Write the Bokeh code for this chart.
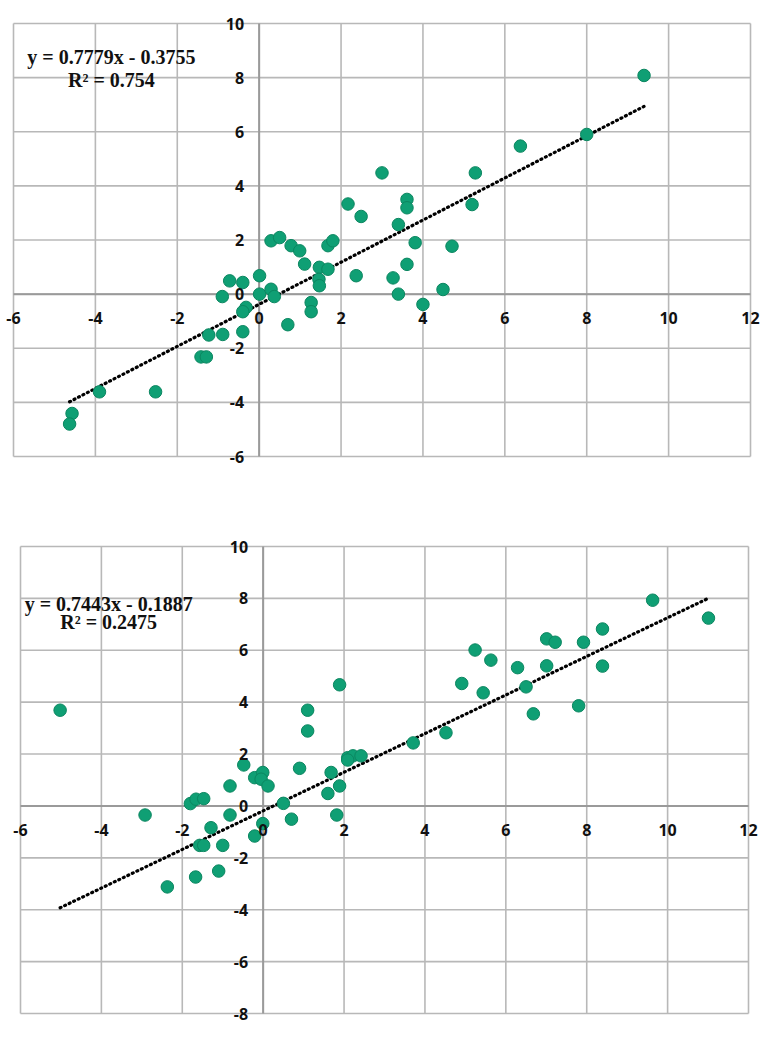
from bokeh.plotting import figure
from bokeh.models import ColumnDataSource, LabelSet, Label, Range1d
from bokeh.layouts import column
from bokeh.core.properties import value
from bokeh.embed import file_html
from bokeh.resources import INLINE

# ---- data: top chart ----
x_top = [2.17, 2.49, 3.40, 0.29, 0.50, 0.78, 0.99, 1.11, 1.68, 1.80, 1.47, 1.68, 1.46, 1.47,
         2.37, 3.27, 3.40, -0.72, -0.40, 0.01, -0.90, 0.01, 0.29, 0.37, -0.32, -0.40, 0.70,
         1.27, 1.27, -1.23, -0.89, -0.40, -1.42, -1.29, -3.90, -2.53, -4.57, -4.63, 9.40,
         8.00, 6.38, 3.00, 5.28, 5.20, 3.61, 3.61, 3.81, 4.71, 3.61, 4.49, 4.00]
y_top = [3.33, 2.87, 2.57, 1.97, 2.09, 1.79, 1.60, 1.11, 1.79, 1.97, 0.99, 0.92, 0.55, 0.31,
         0.68, 0.60, 0.00, 0.49, 0.43, 0.68, -0.09, 0.00, 0.18, -0.09, -0.49, -0.65, -1.13,
         -0.31, -0.65, -1.51, -1.49, -1.39, -2.32, -2.32, -3.61, -3.61, -4.41, -4.80, 8.08,
         5.90, 5.47, 4.48, 4.48, 3.31, 3.50, 3.19, 1.90, 1.77, 1.10, 0.17, -0.38]
slope_top, intercept_top, r2_top = 0.7779, -0.3755, 0.754

# ---- data: bottom chart ----
x_bot = [-5.02, 1.10, 1.10, 1.89,
         -0.48, -0.21, -0.01, -0.05, 0.12, -0.82, 0.90, 1.68, 1.60, 1.89, 2.09, 2.22, 2.42, 2.09,
         -1.80, -1.66, -1.47, -2.92, -0.82, 0.50, 0.70, 1.82, -1.29, -0.01, -0.21, -1.57, -1.47,
         -1.00, -1.10, -1.67, -2.37,
         9.63, 11.01, 8.39, 7.01, 7.22, 7.92, 5.24, 5.63, 6.29, 7.01, 8.39, 4.91, 5.44, 6.50,
         6.68, 7.80, 4.52, 3.71]
y_bot = [3.69, 3.69, 2.89, 4.67,
         1.58, 1.09, 1.29, 1.03, 0.77, 0.77, 1.45, 1.29, 0.48, 0.77, 1.86, 1.93, 1.93, 1.77,
         0.09, 0.26, 0.28, -0.35, -0.35, 0.10, -0.51, -0.35, -0.84, -0.68, -1.16, -1.52, -1.52,
         -1.52, -2.51, -2.74, -3.12,
         7.93, 7.24, 6.82, 6.44, 6.31, 6.31, 6.01, 5.62, 5.33, 5.40, 5.39, 4.72, 4.36, 4.59,
         3.55, 3.86, 2.82, 2.43]
slope_bot, intercept_bot, r2_bot = 0.7443, -0.1887, 0.2475

# ---- ticks ----
x_ticks = [-6, -4, -2, 0, 2, 4, 6, 8, 10, 12]
y_ticks_top = [-6, -4, -2, 0, 2, 4, 6, 8, 10]
y_ticks_bot = [-8, -6, -4, -2, 0, 2, 4, 6, 8, 10]

GREEN = "#0f9f74"
GREEN_EDGE = "#0b8660"
GRID = "#b8b8b8"
AXIS = "#9a9a9a"


def padded(lo, hi, span_px, pad_lo_px, pad_hi_px):
    upp = (hi - lo) / span_px
    return Range1d(lo - pad_lo_px * upp, hi + pad_hi_px * upp)


def make_chart(xs, ys, slope, intercept, r2, yticks, pads, plot_w, plot_h, eq_pos, eq_gap):
    left, right, top, bottom = pads
    p = figure(width=left + plot_w + right, height=top + plot_h + bottom,
               output_backend="svg", toolbar_location=None,
               x_axis_location=None, y_axis_location=None,
               x_range=padded(x_ticks[0], x_ticks[-1], plot_w, left, right),
               y_range=padded(yticks[0], yticks[-1], plot_h, bottom, top),
               min_border=0)
    p.background_fill_color = "white"
    p.border_fill_color = "white"
    p.outline_line_color = None
    p.xgrid.visible = False
    p.ygrid.visible = False

    x0, x1 = x_ticks[0], x_ticks[-1]
    y0, y1 = yticks[0], yticks[-1]
    # grid lines
    p.segment(x0=x_ticks, y0=[y0] * len(x_ticks), x1=x_ticks, y1=[y1] * len(x_ticks),
              line_color=GRID, line_width=1.6)
    p.segment(x0=[x0] * len(yticks), y0=yticks, x1=[x1] * len(yticks), y1=yticks,
              line_color=GRID, line_width=1.6)
    # axis lines through zero
    p.segment(x0=[0, x0], y0=[y0, 0], x1=[0, x1], y1=[y1, 0], line_color=AXIS, line_width=2)

    # trend line computed from regression coefficients over data range
    tx = [min(xs), max(xs)]
    ty = [slope * v + intercept for v in tx]
    p.line(tx, ty, line_color="black", line_width=3.2, line_dash="1 4", line_cap="round")

    p.scatter(xs, ys, size=12.5, fill_color=GREEN, line_color=GREEN_EDGE, line_width=1)

    xsrc = ColumnDataSource(dict(x=x_ticks, y=[0] * len(x_ticks), t=[str(v) for v in x_ticks]))
    ysrc = ColumnDataSource(dict(x=[0] * len(yticks), y=yticks, t=[str(v) for v in yticks]))
    p.add_layout(LabelSet(x="x", y="y", text="t", source=xsrc, text_align="center",
                          text_baseline="middle", y_offset=-24,
                          text_font=value("Open Sans"), text_font_size=value("16px"),
                          text_font_style="bold", text_color="#111111"))
    p.add_layout(LabelSet(x="x", y="y", text="t", source=ysrc, text_align="right",
                          text_baseline="middle", x_offset=-15,
                          text_font=value("Open Sans"), text_font_size=value("16px"),
                          text_font_style="bold", text_color="#111111"))

    sign = "-" if intercept < 0 else "+"
    eq = f"y = {slope:.4f}x {sign} {abs(intercept):.4f}"
    rr = f"R\u00b2 = {r2}"
    p.add_layout(Label(x=eq_pos[0], y=eq_pos[1], text=eq, text_align="center",
                       text_baseline="alphabetic", text_font="Liberation Serif",
                       text_font_size="20px", text_font_style="bold", text_color="#111111"))
    p.add_layout(Label(x=eq_pos[0], y=eq_pos[1] - eq_gap, text=rr, text_align="center",
                       text_baseline="alphabetic", text_font="Liberation Serif",
                       text_font_size="20px", text_font_style="bold", text_color="#111111"))
    return p


p1 = make_chart(x_top, y_top, slope_top, intercept_top, r2_top, y_ticks_top,
                (13, 12, 23, 40), 737, 433, (-3.61, 8.78), 0.85)
p2 = make_chart(x_bot, y_bot, slope_bot, intercept_bot, r2_bot, y_ticks_bot,
                (20, 14, 50, 20), 728, 467, (-3.82, 7.77), 0.68)

layout = column(p1, p2, spacing=0)
open("out.html", "w").write(file_html(layout, INLINE))
